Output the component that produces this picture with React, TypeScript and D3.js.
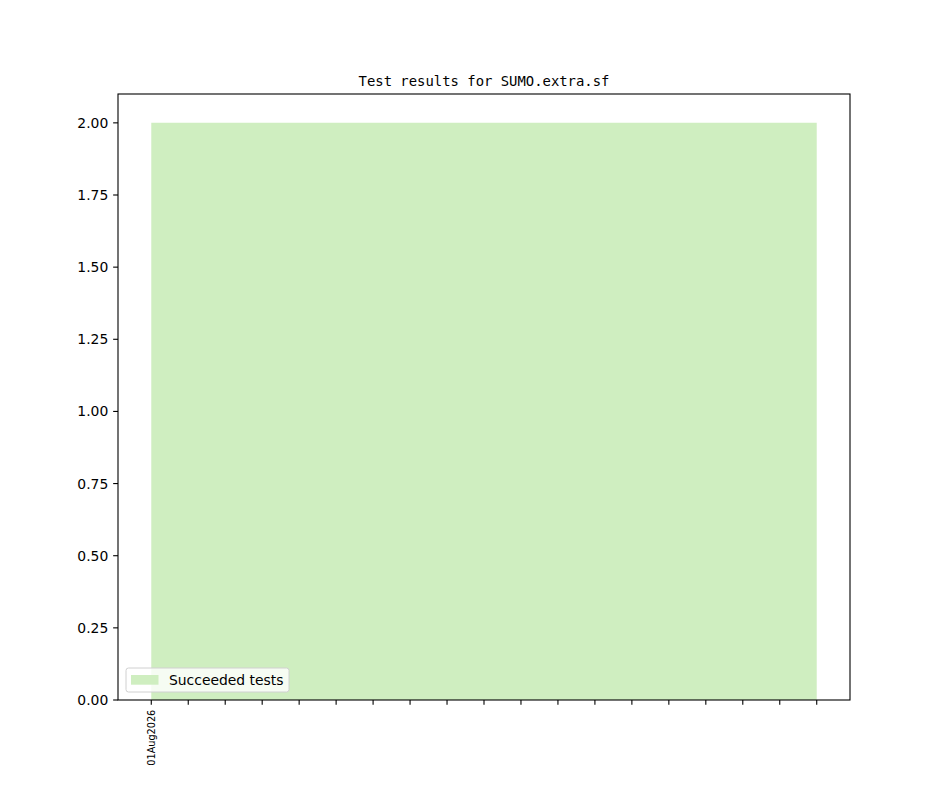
import React from "react";
import * as d3 from "d3";

const dateLabels: string[] = [
  "01Aug2026", "", "", "", "", "", "", "", "", "", "", "", "", "", "", "", "", "", "",
];
const succeeded: number[] = [2, 2, 2, 2, 2, 2, 2, 2, 2, 2, 2, 2, 2, 2, 2, 2, 2, 2, 2];
const yTicks: number[] = [0, 0.25, 0.5, 0.75, 1.0, 1.25, 1.5, 1.75, 2.0];
const title = "Test results for SUMO.extra.sf";
const legendLabel = "Succeeded tests";

const W = 944;
const H = 787;
const L = 118, R = 850, T = 94, B = 700;

export default function App() {
  const n = succeeded.length;
  const span = n - 1;
  const x = d3.scaleLinear().domain([-0.05 * span, span * 1.05]).range([L, R]);
  const y = d3.scaleLinear().domain([0, 2.1]).range([B, T]);
  const area = d3
    .area<number>()
    .x((_, i) => x(i))
    .y0(() => y(0))
    .y1((d) => y(d));
  const tickLen = 4.86;
  const pad = 4.86;
  return (
    <svg
      width={W}
      height={H}
      style={{ position: "absolute", left: 0, top: 0, background: "#fff" }}
      fontFamily="DejaVu Sans"
    >
      <rect x={0} y={0} width={W} height={H} fill="#fff" />
      <path d={area(succeeded) || ""} fill="#cfeec0" />
      <text
        x={(L + R) / 2}
        y={86}
        textAnchor="middle"
        fontFamily="DejaVu Sans Mono"
        fontSize={13.9}
        fill="#000"
      >
        {title}
      </text>
      {yTicks.map((t) => (
        <g key={t}>
          <line x1={L - tickLen} x2={L} y1={y(t)} y2={y(t)} stroke="#000" strokeWidth={1.1} />
          <text
            x={L - tickLen - pad}
            y={y(t)}
            dy="0.36em"
            textAnchor="end"
            fontSize={13.9}
            fill="#000"
          >
            {t.toFixed(2)}
          </text>
        </g>
      ))}
      {dateLabels.map((lab, i) => (
        <g key={i}>
          <line x1={x(i)} x2={x(i)} y1={B} y2={B + tickLen} stroke="#000" strokeWidth={1.1} />
          {lab && (
            <text
              transform={`translate(${x(i)},${B + tickLen + pad}) rotate(-90)`}
              textAnchor="end"
              dy="0.36em"
              fontSize={9.7}
              fill="#000"
            >
              {lab}
            </text>
          )}
        </g>
      ))}
      <rect x={L} y={T} width={R - L} height={B - T} fill="none" stroke="#000" strokeWidth={1.1} />
      <g>
        <rect
          x={126}
          y={668}
          width={163}
          height={24}
          rx={2.5}
          fill="#fff"
          fillOpacity={0.8}
          stroke="#d0d0d0"
          strokeWidth={1}
        />
        <rect x={131} y={675} width={27.5} height={9.7} fill="#cfeec0" />
        <text x={169} y={680} dy="0.36em" fontSize={13.9} fill="#000">
          {legendLabel}
        </text>
      </g>
    </svg>
  );
}
